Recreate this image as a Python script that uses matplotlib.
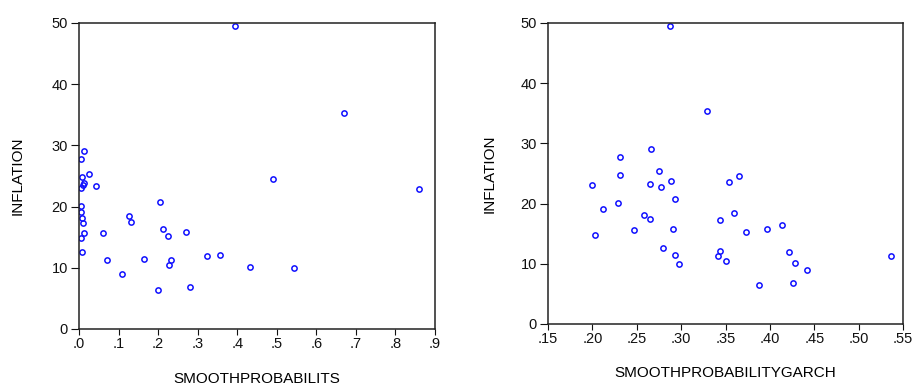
import matplotlib
matplotlib.use("Agg")
import matplotlib.pyplot as plt

plt.rcParams['font.family'] = ['Liberation Sans', 'DejaVu Sans']

# inflation (shared by both panels), paired with each regressor
inflation = [49.5, 35.3, 29.0, 27.7, 25.4, 24.8, 24.5, 23.8, 23.6, 23.3,
             23.0, 22.8, 20.7, 20.1, 19.1, 18.4, 18.1, 17.4, 17.3, 16.4,
             15.8, 15.7, 15.6, 15.2, 14.8, 12.6, 12.1, 11.9, 11.4, 11.3,
             11.2, 10.4, 10.1, 10.0, 9.0, 6.8, 6.4]

smooth_prob = [0.394, 0.670, 0.013, 0.005, 0.025, 0.008, 0.490, 0.013, 0.010, 0.042,
               0.004, 0.860, 0.205, 0.006, 0.004, 0.126, 0.008, 0.131, 0.010, 0.213,
               0.271, 0.061, 0.012, 0.224, 0.005, 0.008, 0.356, 0.324, 0.165, 0.232,
               0.070, 0.228, 0.433, 0.544, 0.108, 0.281, 0.201]

smooth_garch = [0.2875, 0.329, 0.266, 0.231, 0.275, 0.2315, 0.365, 0.289, 0.354, 0.2646,
                0.199, 0.277, 0.293, 0.229, 0.212, 0.359, 0.2585, 0.265, 0.3435, 0.414,
                0.291, 0.397, 0.247, 0.373, 0.203, 0.2796, 0.344, 0.421, 0.293, 0.537,
                0.341, 0.351, 0.428, 0.298, 0.442, 0.426, 0.388]

left_ticks = [0.0, 0.1, 0.2, 0.3, 0.4, 0.5, 0.6, 0.7, 0.8, 0.9]
left_labels = [".0", ".1", ".2", ".3", ".4", ".5", ".6", ".7", ".8", ".9"]
right_ticks = [0.15, 0.20, 0.25, 0.30, 0.35, 0.40, 0.45, 0.50, 0.55]
right_labels = [".15", ".20", ".25", ".30", ".35", ".40", ".45", ".50", ".55"]
y_ticks = [0, 10, 20, 30, 40, 50]

fig = plt.figure(figsize=(9.14, 3.87), dpi=100)
ax1 = fig.add_axes([0.0864, 0.150, 0.3895, 0.7907])
ax2 = fig.add_axes([0.5996, 0.163, 0.3884, 0.7778])


def style(ax, x, xlim, ticks, labels, xlabel, xlabelpad, ylabelpad):
    ax.plot(x, inflation, linestyle="none", marker="o", markersize=3.8,
            markerfacecolor="none", markeredgecolor="#1010ff", markeredgewidth=1.1)
    ax.set_xlim(*xlim)
    ax.set_ylim(0, 50)
    ax.set_xticks(ticks)
    ax.set_xticklabels(labels)
    ax.set_yticks(y_ticks)
    ax.tick_params(direction="out", width=0.8, labelsize=10.5, colors="#111111")
    ax.tick_params(axis="x", length=4, pad=2)
    ax.tick_params(axis="y", length=6, pad=2)
    for s in ax.spines.values():
        s.set_linewidth(1.1)
        s.set_color("#222222")
    ax.set_xlabel(xlabel, fontsize=11, labelpad=xlabelpad)
    ax.set_ylabel("INFLATION", fontsize=11, labelpad=ylabelpad)


style(ax1, smooth_prob, (0, 0.9), left_ticks, left_labels, "SMOOTHPROBABILITS", 15, 19)
style(ax2, smooth_garch, (0.15, 0.55), right_ticks, right_labels, "SMOOTHPROBABILITYGARCH", 14, 17)

fig.savefig("out.png", dpi=100)
